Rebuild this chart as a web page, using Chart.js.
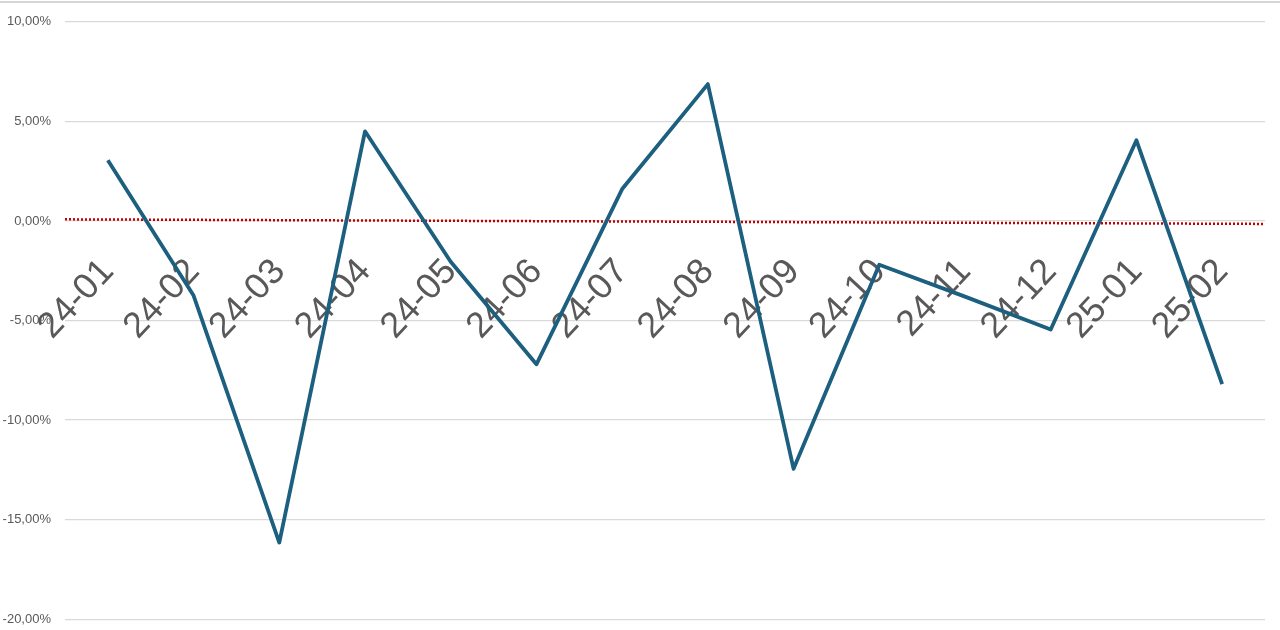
<!DOCTYPE html>
<html>
<head>
<meta charset="utf-8">
<script src="https://cdn.jsdelivr.net/npm/chart.js@4.4.1/dist/chart.umd.min.js"></script>
<style>
  html, body { margin: 0; padding: 0; background: #fff; overflow: hidden; }
  #wrap { position: relative; width: 1280px; height: 630px; overflow: hidden; }
  #c { position: absolute; left: 0; top: 0; }
  #topline { position: absolute; left: 0; top: 1px; width: 1280px; height: 0; border-top: 2px solid #d6d6d6; }
</style>
</head>
<body>
<div id="wrap">
  <canvas id="c" width="1280" height="641"></canvas>
  <div id="topline"></div>
</div>
<script>
const categories = ['24-01','24-02','24-03','24-04','24-05','24-06','24-07','24-08','24-09','24-10','24-11','24-12','25-01','25-02'];
const monthlyChange = [3.05, -3.75, -16.15, 4.5, -2.05, -7.2, 1.6, 6.87, -12.45, -2.2, -3.8, -5.45, 4.05, -8.2];
const referenceLineStart = 0.08;
const referenceLineEnd = -0.15;
const yTicks = [10, 5, 0, -5, -10, -15, -20];

function fmtPct(v) {
  return v.toFixed(2).replace('.', ',') + '%';
}

new Chart(document.getElementById('c'), {
  type: 'line',
  data: {
    labels: categories,
    datasets: [
      {
        label: 'Variazione',
        data: monthlyChange,
        borderColor: '#1c5f7f',
        borderWidth: 3.8,
        pointRadius: 0,
        tension: 0,
        borderJoinStyle: 'round',
        xAxisID: 'x',
        order: 1
      },
      {
        label: 'Riferimento',
        data: [{x: 0, y: referenceLineStart}, {x: 1, y: referenceLineEnd}],
        borderColor: '#c00000',
        borderWidth: 2.5,
        borderDash: [2, 2],
        pointRadius: 0,
        xAxisID: 'x2',
        order: 2
      }
    ]
  },
  options: {
    responsive: false,
    animation: false,
    layout: { padding: { top: 18, bottom: 0, right: 15, left: 0 } },
    plugins: { legend: { display: false }, tooltip: { enabled: false } },
    scales: {
      x: {
        type: 'category',
        position: { y: 0 },
        offset: true,
        grid: { display: false, drawTicks: false },
        border: { display: false },
        afterFit: (axis) => {
          axis.paddingLeft = 0; axis.paddingRight = 0;
          axis.paddingTop = 0; axis.paddingBottom = 0;
        },
        ticks: {
          color: '#595959',
          font: { family: 'Liberation Sans', size: 36 },
          minRotation: 47,
          maxRotation: 47,
          autoSkip: false,
          padding: 30
        }
      },
      x2: {
        type: 'linear',
        min: 0,
        max: 1,
        display: false
      },
      y: {
        min: -20,
        max: 10,
        afterBuildTicks: (axis) => { axis.ticks = yTicks.map(v => ({ value: v })); },
        afterFit: (axis) => { axis.width = 65; },
        grid: { color: '#d9d9d9', lineWidth: 1.3, drawTicks: false },
        border: { display: false },
        ticks: {
          color: '#595959',
          font: { family: 'Liberation Sans', size: 13 },
          padding: 14,
          callback: (v) => fmtPct(v)
        }
      }
    }
  }
});
</script>
</body>
</html>
